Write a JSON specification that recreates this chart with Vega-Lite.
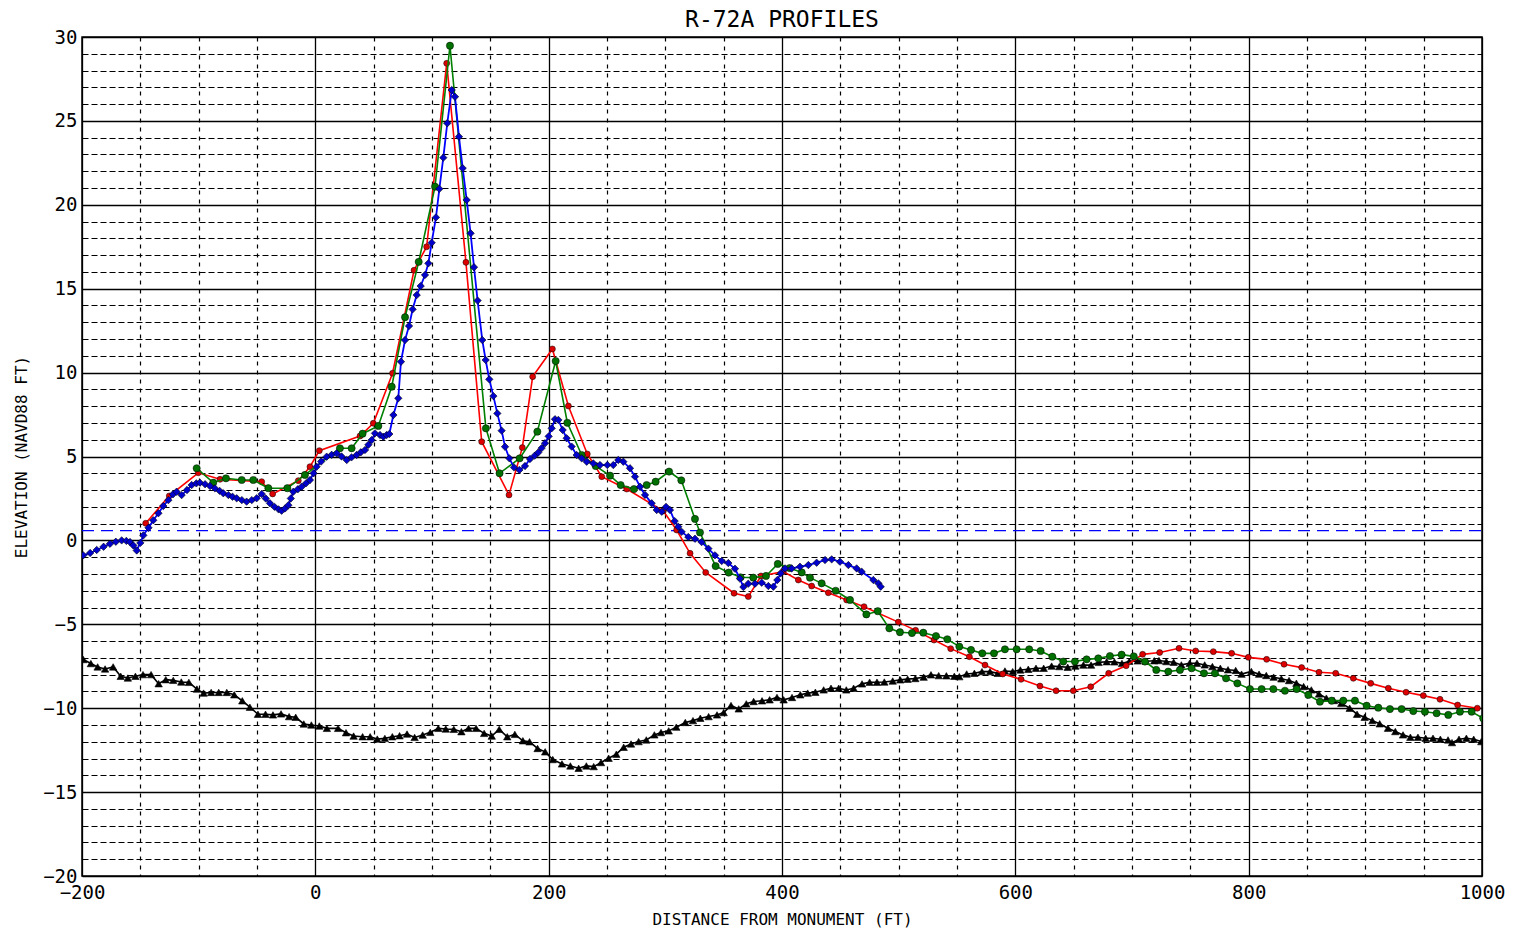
{
  "$schema": "https://vega.github.io/schema/vega-lite/v6.json",
  "width": 1400,
  "height": 839,
  "autosize": {"type": "none"},
  "padding": {"left": 82, "top": 37, "right": 35, "bottom": 55},
  "background": "white",
  "title": {"text": "R-72A PROFILES", "anchor": "middle", "font": "DejaVu Sans Mono", "fontSize": 23, "fontWeight": "normal", "color": "#000000", "offset": -4},
  "config": {"view": {"stroke": "#000000", "strokeWidth": 1.5}},
  "datasets": {
    "black": [
      {"x": -198.9, "y": -7.1}, {"x": -192.4, "y": -7.34}, {"x": -186.6, "y": -7.54}, {"x": -180.2, "y": -7.66}, {"x": -173.3, "y": -7.54},
      {"x": -166.8, "y": -8.1}, {"x": -160.7, "y": -8.2}, {"x": -154.2, "y": -8.1}, {"x": -147.7, "y": -8.0}, {"x": -140.8, "y": -8.0},
      {"x": -134.3, "y": -8.54}, {"x": -128.2, "y": -8.3}, {"x": -121.8, "y": -8.34}, {"x": -114.9, "y": -8.44}, {"x": -108.4, "y": -8.46},
      {"x": -101.5, "y": -8.86}, {"x": -95.8, "y": -9.1}, {"x": -89.3, "y": -9.06}, {"x": -82.8, "y": -9.06}, {"x": -75.9, "y": -9.06},
      {"x": -69.5, "y": -9.2}, {"x": -62.6, "y": -9.56}, {"x": -56.1, "y": -9.94}, {"x": -49.2, "y": -10.36}, {"x": -42.7, "y": -10.36},
      {"x": -36.3, "y": -10.4}, {"x": -29.4, "y": -10.34}, {"x": -22.5, "y": -10.5}, {"x": -16.8, "y": -10.54}, {"x": -9.9, "y": -10.94},
      {"x": -3.4, "y": -11.0}, {"x": 3.4, "y": -11.06}, {"x": 9.9, "y": -11.2}, {"x": 19.5, "y": -11.2}, {"x": 26.3, "y": -11.46},
      {"x": 32.8, "y": -11.66}, {"x": 40.5, "y": -11.7}, {"x": 47.0, "y": -11.7}, {"x": 53.1, "y": -11.84}, {"x": 59.6, "y": -11.8},
      {"x": 66.0, "y": -11.7}, {"x": 72.2, "y": -11.64}, {"x": 78.6, "y": -11.54}, {"x": 85.1, "y": -11.74}, {"x": 92.0, "y": -11.6},
      {"x": 98.5, "y": -11.44}, {"x": 105.4, "y": -11.2}, {"x": 111.8, "y": -11.24}, {"x": 118.7, "y": -11.26}, {"x": 125.2, "y": -11.4},
      {"x": 131.3, "y": -11.2}, {"x": 137.8, "y": -11.2}, {"x": 144.7, "y": -11.5}, {"x": 151.2, "y": -11.66}, {"x": 157.6, "y": -11.26},
      {"x": 164.5, "y": -11.7}, {"x": 171.0, "y": -11.56}, {"x": 177.9, "y": -11.94}, {"x": 183.6, "y": -12.0}, {"x": 190.5, "y": -12.4},
      {"x": 197.0, "y": -12.6}, {"x": 203.5, "y": -13.06}, {"x": 211.4, "y": -13.32}, {"x": 218.6, "y": -13.44}, {"x": 225.7, "y": -13.58},
      {"x": 232.3, "y": -13.44}, {"x": 238.6, "y": -13.48}, {"x": 244.9, "y": -13.24}, {"x": 251.4, "y": -12.98}, {"x": 258.0, "y": -12.74},
      {"x": 264.3, "y": -12.33}, {"x": 270.6, "y": -12.13}, {"x": 277.1, "y": -11.99}, {"x": 283.7, "y": -11.89}, {"x": 290.6, "y": -11.59},
      {"x": 296.3, "y": -11.45}, {"x": 302.9, "y": -11.35}, {"x": 309.4, "y": -11.13}, {"x": 317.1, "y": -10.85}, {"x": 323.7, "y": -10.74},
      {"x": 330.0, "y": -10.6}, {"x": 337.1, "y": -10.5}, {"x": 344.3, "y": -10.4}, {"x": 350.0, "y": -10.26}, {"x": 356.3, "y": -9.84},
      {"x": 362.9, "y": -10.04}, {"x": 369.4, "y": -9.74}, {"x": 375.7, "y": -9.6}, {"x": 382.9, "y": -9.56}, {"x": 389.4, "y": -9.5},
      {"x": 395.7, "y": -9.36}, {"x": 401.4, "y": -9.5}, {"x": 408.6, "y": -9.36}, {"x": 415.7, "y": -9.2}, {"x": 422.0, "y": -9.1},
      {"x": 428.6, "y": -9.05}, {"x": 435.7, "y": -8.91}, {"x": 442.0, "y": -8.81}, {"x": 448.6, "y": -8.81}, {"x": 455.1, "y": -8.91},
      {"x": 461.4, "y": -8.81}, {"x": 468.6, "y": -8.55}, {"x": 475.1, "y": -8.45}, {"x": 481.4, "y": -8.45}, {"x": 487.7, "y": -8.44},
      {"x": 494.9, "y": -8.38}, {"x": 501.4, "y": -8.31}, {"x": 507.7, "y": -8.27}, {"x": 514.3, "y": -8.23}, {"x": 521.4, "y": -8.15},
      {"x": 527.7, "y": -8.01}, {"x": 534.3, "y": -8.06}, {"x": 540.9, "y": -8.07}, {"x": 547.7, "y": -8.1}, {"x": 552.0, "y": -8.12},
      {"x": 558.3, "y": -7.96}, {"x": 564.9, "y": -7.92}, {"x": 571.4, "y": -7.82}, {"x": 578.3, "y": -7.82}, {"x": 584.9, "y": -7.92},
      {"x": 591.1, "y": -7.78}, {"x": 597.7, "y": -7.82}, {"x": 604.3, "y": -7.72}, {"x": 611.1, "y": -7.68}, {"x": 617.7, "y": -7.62},
      {"x": 624.3, "y": -7.62}, {"x": 631.1, "y": -7.49}, {"x": 637.7, "y": -7.52}, {"x": 644.9, "y": -7.56}, {"x": 651.4, "y": -7.49},
      {"x": 658.3, "y": -7.43}, {"x": 664.9, "y": -7.43}, {"x": 671.4, "y": -7.27}, {"x": 678.3, "y": -7.23}, {"x": 684.9, "y": -7.24},
      {"x": 691.4, "y": -7.33}, {"x": 697.7, "y": -7.2}, {"x": 704.9, "y": -7.18}, {"x": 712.0, "y": -7.2}, {"x": 719.1, "y": -7.17},
      {"x": 723.1, "y": -7.16}, {"x": 729.4, "y": -7.22}, {"x": 735.7, "y": -7.26}, {"x": 742.3, "y": -7.42}, {"x": 749.4, "y": -7.32},
      {"x": 755.7, "y": -7.32}, {"x": 762.3, "y": -7.42}, {"x": 768.9, "y": -7.52}, {"x": 775.7, "y": -7.62}, {"x": 782.3, "y": -7.71},
      {"x": 788.9, "y": -7.75}, {"x": 793.9, "y": -7.97}, {"x": 802.3, "y": -7.81}, {"x": 808.9, "y": -7.97}, {"x": 815.1, "y": -8.05},
      {"x": 821.4, "y": -8.15}, {"x": 828.0, "y": -8.25}, {"x": 834.6, "y": -8.35}, {"x": 840.9, "y": -8.51}, {"x": 847.1, "y": -8.71},
      {"x": 853.7, "y": -8.91}, {"x": 860.3, "y": -9.15}, {"x": 866.6, "y": -9.4}, {"x": 873.1, "y": -9.54}, {"x": 879.4, "y": -9.7},
      {"x": 886.6, "y": -10.0}, {"x": 892.9, "y": -10.36}, {"x": 899.4, "y": -10.54}, {"x": 906.0, "y": -10.74}, {"x": 912.3, "y": -10.93},
      {"x": 919.4, "y": -11.19}, {"x": 925.7, "y": -11.39}, {"x": 932.3, "y": -11.59}, {"x": 938.6, "y": -11.73}, {"x": 945.1, "y": -11.73},
      {"x": 951.7, "y": -11.79}, {"x": 958.0, "y": -11.79}, {"x": 964.3, "y": -11.85}, {"x": 970.9, "y": -11.89}, {"x": 974.3, "y": -12.05},
      {"x": 980.3, "y": -11.85}, {"x": 986.6, "y": -11.79}, {"x": 992.9, "y": -11.85}, {"x": 999.4, "y": -11.99}
    ],
    "red": [
      {"x": -145.4, "y": 1.02}, {"x": -125.2, "y": 2.65}, {"x": -100.3, "y": 4.03}, {"x": -81.7, "y": 3.64}, {"x": -46.0, "y": 3.5},
      {"x": -36.6, "y": 2.77}, {"x": -14.6, "y": 3.56}, {"x": -4.6, "y": 4.39}, {"x": 3.4, "y": 5.35}, {"x": 38.3, "y": 6.22},
      {"x": 49.7, "y": 6.98}, {"x": 66.2, "y": 9.96}, {"x": 84.6, "y": 16.1}, {"x": 95.4, "y": 17.5}, {"x": 112.6, "y": 28.43},
      {"x": 129.1, "y": 16.57}, {"x": 142.6, "y": 5.88}, {"x": 166.0, "y": 2.71}, {"x": 177.4, "y": 5.53}, {"x": 186.3, "y": 9.76},
      {"x": 203.2, "y": 11.41}, {"x": 216.9, "y": 8.01}, {"x": 233.1, "y": 5.15}, {"x": 245.5, "y": 3.8}, {"x": 266.9, "y": 3.06},
      {"x": 298.3, "y": 1.75}, {"x": 309.7, "y": 0.62}, {"x": 321.2, "y": -0.77}, {"x": 334.6, "y": -1.91}, {"x": 358.9, "y": -3.15},
      {"x": 371.1, "y": -3.35}, {"x": 382.0, "y": -2.12}, {"x": 401.1, "y": -1.86}, {"x": 414.0, "y": -2.36}, {"x": 425.4, "y": -2.72},
      {"x": 439.7, "y": -3.12}, {"x": 455.4, "y": -3.55}, {"x": 470.3, "y": -3.95}, {"x": 499.7, "y": -4.87}, {"x": 514.5, "y": -5.36},
      {"x": 530.3, "y": -5.94}, {"x": 544.6, "y": -6.45}, {"x": 560.6, "y": -6.93}, {"x": 574.0, "y": -7.43}, {"x": 589.2, "y": -7.96},
      {"x": 604.9, "y": -8.28}, {"x": 621.1, "y": -8.68}, {"x": 634.9, "y": -8.96}, {"x": 649.7, "y": -8.96}, {"x": 664.6, "y": -8.72},
      {"x": 680.0, "y": -7.92}, {"x": 695.0, "y": -7.47}, {"x": 709.1, "y": -6.79}, {"x": 723.7, "y": -6.68}, {"x": 740.3, "y": -6.43},
      {"x": 754.6, "y": -6.59}, {"x": 769.7, "y": -6.63}, {"x": 785.4, "y": -6.73}, {"x": 799.7, "y": -6.97}, {"x": 815.4, "y": -7.09},
      {"x": 830.3, "y": -7.38}, {"x": 845.4, "y": -7.58}, {"x": 860.3, "y": -7.86}, {"x": 874.6, "y": -7.92}, {"x": 889.7, "y": -8.22},
      {"x": 904.6, "y": -8.52}, {"x": 919.7, "y": -8.81}, {"x": 934.9, "y": -9.05}, {"x": 949.7, "y": -9.25}, {"x": 964.0, "y": -9.47},
      {"x": 979.1, "y": -9.81}, {"x": 996.0, "y": -10.0}
    ],
    "green": [
      {"x": -101.7, "y": 4.3}, {"x": -87.5, "y": 3.44}, {"x": -76.6, "y": 3.7}, {"x": -63.1, "y": 3.6}, {"x": -53.2, "y": 3.6},
      {"x": -40.3, "y": 3.11}, {"x": -24.0, "y": 3.11}, {"x": -8.9, "y": 3.9}, {"x": 21.1, "y": 5.49}, {"x": 31.1, "y": 5.49},
      {"x": 40.5, "y": 6.36}, {"x": 54.0, "y": 6.82}, {"x": 65.5, "y": 9.16}, {"x": 76.9, "y": 13.3}, {"x": 88.6, "y": 16.6},
      {"x": 102.6, "y": 21.08}, {"x": 115.4, "y": 29.48}, {"x": 146.2, "y": 6.68}, {"x": 157.9, "y": 4.0}, {"x": 175.1, "y": 4.89},
      {"x": 190.3, "y": 6.48}, {"x": 206.0, "y": 10.69}, {"x": 216.0, "y": 7.01}, {"x": 228.3, "y": 5.09}, {"x": 240.3, "y": 4.43},
      {"x": 252.6, "y": 3.86}, {"x": 261.7, "y": 3.3}, {"x": 273.1, "y": 3.06}, {"x": 284.0, "y": 3.3}, {"x": 291.7, "y": 3.5},
      {"x": 303.2, "y": 4.1}, {"x": 313.7, "y": 3.58}, {"x": 325.4, "y": 1.28}, {"x": 329.7, "y": 0.47}, {"x": 343.1, "y": -1.53},
      {"x": 354.3, "y": -1.92}, {"x": 364.5, "y": -2.2}, {"x": 375.4, "y": -2.22}, {"x": 386.3, "y": -2.12}, {"x": 396.4, "y": -1.4},
      {"x": 406.5, "y": -1.65}, {"x": 416.9, "y": -1.91}, {"x": 424.0, "y": -2.22}, {"x": 434.0, "y": -2.56}, {"x": 446.0, "y": -3.0},
      {"x": 458.3, "y": -3.55}, {"x": 472.3, "y": -4.41}, {"x": 482.1, "y": -4.22}, {"x": 492.0, "y": -5.24}, {"x": 501.1, "y": -5.47},
      {"x": 511.4, "y": -5.52}, {"x": 521.1, "y": -5.5}, {"x": 532.0, "y": -5.7}, {"x": 541.7, "y": -5.89}, {"x": 552.0, "y": -6.33},
      {"x": 562.0, "y": -6.53}, {"x": 571.7, "y": -6.73}, {"x": 581.7, "y": -6.73}, {"x": 591.1, "y": -6.49}, {"x": 601.1, "y": -6.49},
      {"x": 611.9, "y": -6.49}, {"x": 621.7, "y": -6.59}, {"x": 631.7, "y": -6.93}, {"x": 641.1, "y": -7.22}, {"x": 651.1, "y": -7.22},
      {"x": 661.1, "y": -7.09}, {"x": 671.1, "y": -7.03}, {"x": 681.1, "y": -6.89}, {"x": 691.1, "y": -6.81}, {"x": 701.5, "y": -6.91},
      {"x": 711.1, "y": -7.22}, {"x": 720.8, "y": -7.72}, {"x": 731.1, "y": -7.82}, {"x": 741.1, "y": -7.72}, {"x": 751.1, "y": -7.62},
      {"x": 761.7, "y": -7.92}, {"x": 771.1, "y": -7.92}, {"x": 780.6, "y": -8.22}, {"x": 790.3, "y": -8.52}, {"x": 801.1, "y": -8.86},
      {"x": 811.1, "y": -8.86}, {"x": 821.1, "y": -8.86}, {"x": 831.1, "y": -8.96}, {"x": 841.1, "y": -8.86}, {"x": 851.1, "y": -9.21},
      {"x": 861.1, "y": -9.61}, {"x": 871.1, "y": -9.55}, {"x": 881.1, "y": -9.55}, {"x": 891.1, "y": -9.55}, {"x": 901.1, "y": -9.85},
      {"x": 911.1, "y": -9.97}, {"x": 921.1, "y": -10.05}, {"x": 931.1, "y": -10.05}, {"x": 941.1, "y": -10.17}, {"x": 951.1, "y": -10.21},
      {"x": 961.1, "y": -10.3}, {"x": 971.1, "y": -10.4}, {"x": 981.1, "y": -10.21}, {"x": 991.1, "y": -10.21}, {"x": 1001.0, "y": -10.6}
    ],
    "blue": [
      {"x": -198.9, "y": -0.89}, {"x": -193.0, "y": -0.75}, {"x": -187.4, "y": -0.57}, {"x": -181.5, "y": -0.38}, {"x": -176.0, "y": -0.2},
      {"x": -171.0, "y": -0.08}, {"x": -166.0, "y": 0.0}, {"x": -162.0, "y": -0.03}, {"x": -158.9, "y": -0.1}, {"x": -156.0, "y": -0.3},
      {"x": -153.1, "y": -0.6}, {"x": -150.0, "y": -0.15}, {"x": -147.4, "y": 0.3}, {"x": -143.0, "y": 0.75}, {"x": -138.9, "y": 1.2},
      {"x": -134.5, "y": 1.62}, {"x": -130.3, "y": 2.05}, {"x": -126.0, "y": 2.4}, {"x": -122.0, "y": 2.75}, {"x": -118.9, "y": 2.9},
      {"x": -114.6, "y": 2.7}, {"x": -110.0, "y": 3.0}, {"x": -106.0, "y": 3.3}, {"x": -102.0, "y": 3.4}, {"x": -98.9, "y": 3.44},
      {"x": -94.5, "y": 3.35}, {"x": -90.3, "y": 3.24}, {"x": -86.0, "y": 3.1}, {"x": -82.0, "y": 2.95}, {"x": -78.9, "y": 2.81},
      {"x": -74.5, "y": 2.7}, {"x": -71.0, "y": 2.6}, {"x": -67.4, "y": 2.51}, {"x": -63.0, "y": 2.4}, {"x": -58.9, "y": 2.31},
      {"x": -54.5, "y": 2.4}, {"x": -50.3, "y": 2.51}, {"x": -46.0, "y": 2.77}, {"x": -42.5, "y": 2.5}, {"x": -38.9, "y": 2.21},
      {"x": -35.0, "y": 2.0}, {"x": -31.5, "y": 1.85}, {"x": -28.9, "y": 1.77}, {"x": -26.0, "y": 1.9}, {"x": -23.1, "y": 2.1},
      {"x": -21.0, "y": 2.5}, {"x": -18.9, "y": 2.9}, {"x": -15.0, "y": 3.05}, {"x": -11.7, "y": 3.2}, {"x": -8.0, "y": 3.4},
      {"x": -4.6, "y": 3.6}, {"x": -1.5, "y": 4.0}, {"x": 1.1, "y": 4.39}, {"x": 5.0, "y": 4.7}, {"x": 9.7, "y": 4.99},
      {"x": 14.0, "y": 5.1}, {"x": 18.3, "y": 5.19}, {"x": 22.5, "y": 5.0}, {"x": 26.9, "y": 4.79}, {"x": 31.0, "y": 4.95},
      {"x": 35.4, "y": 5.09}, {"x": 39.0, "y": 5.25}, {"x": 42.6, "y": 5.39}, {"x": 45.5, "y": 5.7}, {"x": 48.3, "y": 5.98},
      {"x": 51.1, "y": 6.38}, {"x": 55.4, "y": 6.28}, {"x": 58.3, "y": 6.18}, {"x": 61.1, "y": 6.28}, {"x": 63.4, "y": 6.34},
      {"x": 66.9, "y": 7.47}, {"x": 71.1, "y": 8.47}, {"x": 73.4, "y": 10.65}, {"x": 76.9, "y": 11.94}, {"x": 80.3, "y": 12.78},
      {"x": 83.4, "y": 13.77}, {"x": 86.9, "y": 14.62}, {"x": 90.3, "y": 15.16}, {"x": 94.0, "y": 15.82}, {"x": 96.9, "y": 16.51},
      {"x": 99.7, "y": 17.74}, {"x": 103.4, "y": 19.25}, {"x": 106.3, "y": 20.95}, {"x": 109.7, "y": 22.81}, {"x": 113.1, "y": 24.86},
      {"x": 116.9, "y": 26.84}, {"x": 119.7, "y": 26.44}, {"x": 123.1, "y": 24.06}, {"x": 126.3, "y": 22.18}, {"x": 129.7, "y": 20.29},
      {"x": 133.1, "y": 18.3}, {"x": 136.0, "y": 16.28}, {"x": 139.1, "y": 14.29}, {"x": 143.1, "y": 11.94}, {"x": 146.0, "y": 10.75},
      {"x": 149.1, "y": 9.6}, {"x": 152.6, "y": 8.6}, {"x": 156.0, "y": 7.57}, {"x": 159.7, "y": 6.54}, {"x": 162.6, "y": 5.58},
      {"x": 166.3, "y": 4.89}, {"x": 170.3, "y": 4.35}, {"x": 174.9, "y": 4.2}, {"x": 179.7, "y": 4.43}, {"x": 184.0, "y": 4.85},
      {"x": 188.0, "y": 5.05}, {"x": 191.1, "y": 5.24}, {"x": 194.0, "y": 5.5}, {"x": 196.9, "y": 5.79}, {"x": 200.0, "y": 6.2},
      {"x": 202.6, "y": 6.68}, {"x": 205.4, "y": 7.22}, {"x": 208.3, "y": 7.18}, {"x": 212.0, "y": 6.58}, {"x": 215.4, "y": 6.09},
      {"x": 219.7, "y": 5.59}, {"x": 224.0, "y": 5.09}, {"x": 228.3, "y": 4.89}, {"x": 232.6, "y": 4.69}, {"x": 238.3, "y": 4.59},
      {"x": 244.0, "y": 4.49}, {"x": 250.3, "y": 4.49}, {"x": 255.4, "y": 4.49}, {"x": 259.7, "y": 4.79}, {"x": 264.0, "y": 4.69},
      {"x": 269.7, "y": 4.3}, {"x": 274.0, "y": 3.8}, {"x": 278.3, "y": 3.2}, {"x": 282.6, "y": 2.71}, {"x": 288.3, "y": 2.21},
      {"x": 292.6, "y": 1.81}, {"x": 296.9, "y": 1.71}, {"x": 300.6, "y": 2.0}, {"x": 304.0, "y": 1.81}, {"x": 308.0, "y": 1.15},
      {"x": 311.1, "y": 0.81}, {"x": 314.0, "y": 0.51}, {"x": 319.7, "y": 0.2}, {"x": 325.4, "y": 0.1}, {"x": 331.1, "y": -0.1},
      {"x": 336.9, "y": -0.49}, {"x": 342.6, "y": -0.89}, {"x": 348.3, "y": -1.23}, {"x": 354.0, "y": -1.35}, {"x": 359.7, "y": -1.69},
      {"x": 364.0, "y": -2.28}, {"x": 366.9, "y": -2.78}, {"x": 371.1, "y": -2.58}, {"x": 376.9, "y": -2.58}, {"x": 382.6, "y": -2.52},
      {"x": 388.3, "y": -2.72}, {"x": 392.6, "y": -2.76}, {"x": 396.0, "y": -2.36}, {"x": 398.9, "y": -1.96}, {"x": 402.6, "y": -1.67},
      {"x": 408.3, "y": -1.67}, {"x": 415.4, "y": -1.57}, {"x": 422.6, "y": -1.47}, {"x": 429.7, "y": -1.33}, {"x": 436.9, "y": -1.17},
      {"x": 442.6, "y": -1.13}, {"x": 449.7, "y": -1.27}, {"x": 456.9, "y": -1.47}, {"x": 464.0, "y": -1.67}, {"x": 468.3, "y": -1.87},
      {"x": 478.3, "y": -2.36}, {"x": 482.6, "y": -2.56}, {"x": 484.6, "y": -2.76}
    ],
    "datum": [{"x": -200, "x2": 1000, "y": 0.58}]
  },
  "encoding": {
    "x": {
      "field": "x", "type": "quantitative",
      "scale": {"domain": [-200, 1000], "nice": false, "zero": false},
      "axis": {
        "values": [-200, -150, -100, -50, 0, 50, 100, 150, 200, 250, 300, 350, 400, 450, 500, 550, 600, 650, 700, 750, 800, 850, 900, 950, 1000],
        "format": "d",
        "title": "DISTANCE FROM MONUMENT (FT)",
        "titleFont": "DejaVu Sans Mono", "titleFontSize": 16, "titleFontWeight": "normal", "titleColor": "#000000", "titlePadding": 9,
        "labelExpr": "datum.value % 200 === 0 ? datum.label : ''",
        "labelFont": "DejaVu Sans Mono", "labelFontSize": 19, "labelColor": "#000000", "labelPadding": 7,
        "labelFlush": false, "labelOverlap": false,
        "ticks": false, "domain": false,
        "grid": true, "gridColor": "#000000",
        "gridDash": {"condition": {"test": "datum.value % 200 === 0", "value": []}, "value": [4, 5]},
        "gridWidth": {"condition": {"test": "datum.value % 200 === 0", "value": 1.3}, "value": 1.2}
      }
    },
    "y": {
      "field": "y", "type": "quantitative",
      "scale": {"domain": [-20, 30], "nice": false, "zero": false},
      "axis": {
        "values": [-20, -19, -18, -17, -16, -15, -14, -13, -12, -11, -10, -9, -8, -7, -6, -5, -4, -3, -2, -1, 0, 1, 2, 3, 4, 5, 6, 7, 8, 9, 10, 11, 12, 13, 14, 15, 16, 17, 18, 19, 20, 21, 22, 23, 24, 25, 26, 27, 28, 29, 30],
        "format": "d",
        "title": "ELEVATION (NAVD88 FT)",
        "titleFont": "DejaVu Sans Mono", "titleFontSize": 16, "titleFontWeight": "normal", "titleColor": "#000000", "titlePadding": 13,
        "labelExpr": "datum.value % 5 === 0 ? datum.label : ''",
        "labelFont": "DejaVu Sans Mono", "labelFontSize": 19, "labelColor": "#000000", "labelPadding": 5,
        "labelFlush": false, "labelOverlap": false,
        "ticks": false, "domain": false,
        "grid": true, "gridColor": "#000000",
        "gridDash": {"condition": {"test": "datum.value % 5 === 0", "value": []}, "value": [6, 3]},
        "gridWidth": {"condition": {"test": "datum.value % 5 === 0", "value": 1.3}, "value": 1.2}
      }
    }
  },
  "layer": [
    {"data": {"name": "datum"}, "mark": {"type": "rule", "color": "#0000ff", "strokeWidth": 1.2, "strokeDash": [12, 7]}, "encoding": {"x2": {"field": "x2"}}},
    {"data": {"name": "black"}, "mark": {"type": "line", "color": "#000000", "strokeWidth": 1.6, "clip": true}},
    {"data": {"name": "black"}, "mark": {"type": "point", "shape": "triangle-up", "filled": true, "fill": "#000000", "stroke": "#000000", "strokeWidth": 0.6, "size": 55, "opacity": 1, "clip": true}},
    {"data": {"name": "red"}, "mark": {"type": "line", "color": "#ff0000", "strokeWidth": 1.6, "clip": true}},
    {"data": {"name": "red"}, "mark": {"type": "point", "shape": "circle", "filled": true, "fill": "#dd0000", "stroke": "#000000", "strokeWidth": 0.7, "strokeOpacity": 0.7, "size": 36, "opacity": 1, "clip": true}},
    {"data": {"name": "green"}, "mark": {"type": "line", "color": "#008000", "strokeWidth": 1.6, "clip": true}},
    {"data": {"name": "green"}, "mark": {"type": "point", "shape": "circle", "filled": true, "fill": "#007000", "stroke": "#000000", "strokeWidth": 0.7, "strokeOpacity": 0.7, "size": 52, "opacity": 1, "clip": true}},
    {"data": {"name": "blue"}, "mark": {"type": "line", "color": "#0000ff", "strokeWidth": 1.8, "clip": true}},
    {"data": {"name": "blue"}, "mark": {"type": "point", "shape": "diamond", "filled": true, "fill": "#0000cc", "stroke": "#000000", "strokeWidth": 0.8, "strokeOpacity": 0.7, "size": 55, "opacity": 1, "clip": true}}
  ]
}
